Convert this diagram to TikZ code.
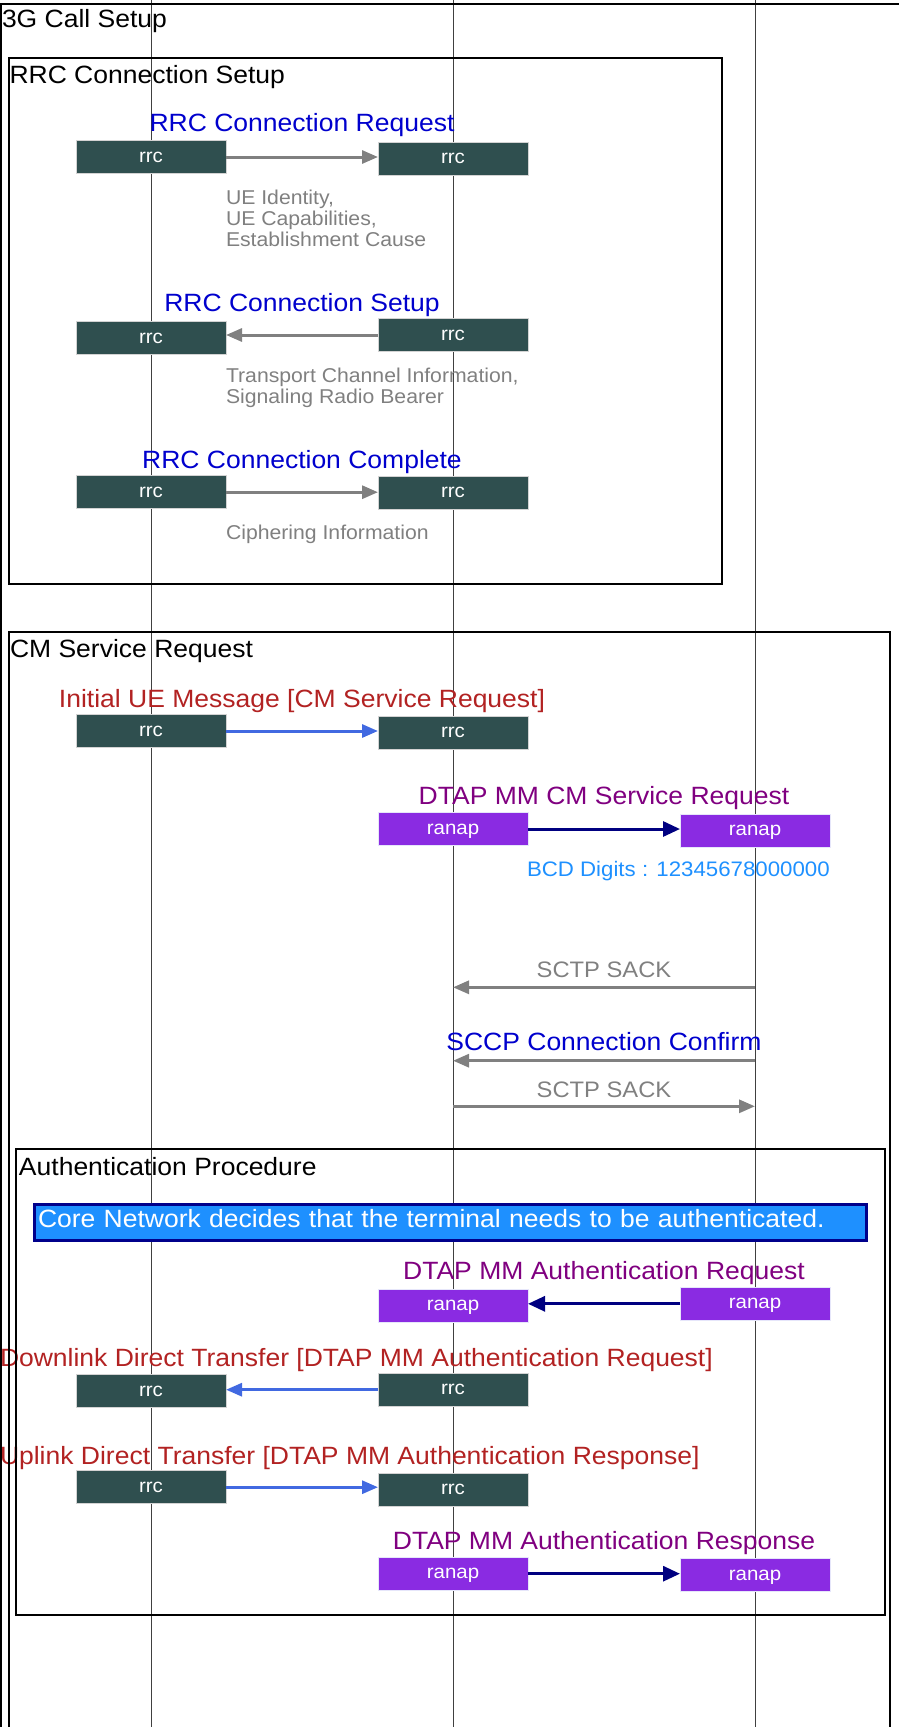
\documentclass[tikz,border=0pt]{standalone}
\usepackage{fontspec}
\setmainfont{Liberation Sans}[FakeStretch=1.06]
\usetikzlibrary{arrows.meta}

\definecolor{rrcfill}{HTML}{2F4F4F}
\definecolor{rrcline}{HTML}{D3D3D3}
\definecolor{ranapfill}{HTML}{8A2BE2}
\definecolor{ranapline}{HTML}{E6E6FA}
\definecolor{msgblue}{HTML}{0000CD}
\definecolor{msgred}{HTML}{B22222}
\definecolor{msgpurple}{HTML}{800080}
\definecolor{notegrey}{HTML}{808080}
\definecolor{infoblue}{HTML}{1E90FF}
\definecolor{infoline}{HTML}{00008B}
\definecolor{linkblue}{HTML}{4169E1}
\definecolor{linknavy}{HTML}{000080}

\tikzset{
  every node/.style={inner sep=0pt, outer sep=0pt},
  lifeline/.style={draw=black!75, line width=1pt},
  frame/.style={draw=black, line width=2pt},
  ftitle/.style={anchor=base west, font=\fontsize{25}{30}\selectfont},
  msg/.style={anchor=base, font=\fontsize{25}{30}\selectfont},
  sack/.style={anchor=base, text=notegrey, font=\fontsize{22.4}{26}\selectfont},
  % multi-line notes are placed by the baseline of their last line
  note/.style={anchor=base west, text=notegrey, align=left,
    font=\fontsize{20}{21}\selectfont},
  rrcbox/.style={draw=rrcline, line width=1pt, fill=rrcfill,
    minimum width=150pt, minimum height=33pt, text=white,
    text height=10pt, text depth=0pt, font=\fontsize{19.3}{23}\selectfont},
  ranapbox/.style={rrcbox, draw=ranapline, fill=ranapfill},
  infobox/.style={anchor=north west, draw=infoline, line width=2.5pt,
    fill=infoblue, text=white, minimum width=832pt, minimum height=36pt,
    inner xsep=3.5pt, text width=825pt, align=left,
    text height=18pt, text depth=7.5pt, font=\fontsize{25}{30}\selectfont},
  greymsg/.style={draw=notegrey, line width=3pt, -{Triangle[length=16pt,width=13pt]}},
  bluemsg/.style={draw=linkblue, line width=3pt, -{Triangle[length=16pt,width=13pt]}},
  navymsg/.style={draw=linknavy, line width=3pt, -{Triangle[length=17pt,width=15pt]}},
}

\begin{document}
\begin{tikzpicture}[x=1pt, y=-1pt]
\useasboundingbox (0,0) rectangle (898,1727);

% lifelines of the three entities
\coordinate (L1t) at (151,0);   \coordinate (L1b) at (151,1727);
\coordinate (L2t) at (453,0);   \coordinate (L2b) at (453,1727);
\coordinate (L3t) at (755,0);   \coordinate (L3b) at (755,1727);
\draw[lifeline] (L1t) -- (L1b);
\draw[lifeline] (L2t) -- (L2b);
\draw[lifeline] (L3t) -- (L3b);

% frame titles
\node[ftitle] (f0) at (2,27.3) {3G Call Setup};
\node[ftitle] (f1) at (9.5,83.3) {RRC Connection Setup};
\node[ftitle] (f2) at (10,657) {CM Service Request};
\node[ftitle] (f3) at (19,1175) {Authentication Procedure};

% message names
\node[msg, text=msgblue] (t1) at (302,131.7) {RRC Connection Request};
\node[msg, text=msgblue] (t2) at (302,311) {RRC Connection Setup};
\node[msg, text=msgblue] (t3) at (302,468) {RRC Connection Complete};
\node[msg, text=msgred] (t4) at (302,707) {Initial UE Message [CM Service Request]};
\node[msg, text=msgpurple] (t5) at (604,804) {DTAP MM CM Service Request};
\node[sack] (t6) at (604,977.3) {SCTP SACK};
\node[msg, text=msgblue] (t7) at (604,1050.7) {SCCP Connection Confirm};
\node[sack] (t8) at (604,1097) {SCTP SACK};
\node[msg, text=msgpurple] (t9) at (604,1279.3) {DTAP MM Authentication Request};
\node[msg, text=msgred, anchor=base west] (t10) at (0,1366) {Downlink Direct Transfer [DTAP MM Authentication Request]};
\node[msg, text=msgred, anchor=base west] (t11) at (0,1464.3) {Uplink Direct Transfer [DTAP MM Authentication Response]};
\node[msg, text=msgpurple] (t12) at (604,1549.3) {DTAP MM Authentication Response};

% parameter notes
\node[note] (n1) at (226,246) {UE Identity,\\UE Capabilities,\\Establishment Cause};
\node[note] (n2) at (226,403) {Transport Channel Information,\\Signaling Radio Bearer};
\node[note] (n3) at (226,539.3) {Ciphering Information};
\node[note, text=infoblue, font=\fontsize{21}{24}\selectfont] (n4) at (527,876) {BCD Digits : 12345678000000};

% protocol boxes
\node[rrcbox] (r1a) at (151,157) {rrc};
\node[rrcbox] (r1b) at (453,158.7) {rrc};
\node[rrcbox] (r2a) at (151,338) {rrc};
\node[rrcbox] (r2b) at (453,335) {rrc};
\node[rrcbox] (r3a) at (151,492.2) {rrc};
\node[rrcbox] (r3b) at (453,492.8) {rrc};
\node[rrcbox] (r4a) at (151,731) {rrc};
\node[rrcbox] (r4b) at (453,732.8) {rrc};
\node[ranapbox] (p5a) at (453,829) {ranap};
\node[ranapbox] (p5b) at (755,830.7) {ranap};
\node[ranapbox] (p6a) at (453,1305.8) {ranap};
\node[ranapbox] (p6b) at (755,1303.8) {ranap};
\node[rrcbox] (r7a) at (151,1391) {rrc};
\node[rrcbox] (r7b) at (453,1389.7) {rrc};
\node[rrcbox] (r8a) at (151,1487.2) {rrc};
\node[rrcbox] (r8b) at (453,1489.7) {rrc};
\node[ranapbox] (p9a) at (453,1573.7) {ranap};
\node[ranapbox] (p9b) at (755,1575) {ranap};

% note box
\node[infobox] (cn) at (34.5,1204.5) {Core Network decides that the terminal needs to be authenticated.};

% messages between boxes
\draw[greymsg] (r1a.east) -- (r1a.east -| r1b.west);
\draw[greymsg] (r2b.west) -- (r2b.west -| r2a.east);
\draw[greymsg] (r3a.east) -- (r3a.east -| r3b.west);
\draw[bluemsg] (r4a.east) -- (r4a.east -| r4b.west);
\draw[navymsg] (p5a.east) -- (p5a.east -| p5b.west);
\draw[navymsg] (p6b.west) -- (p6b.west -| p6a.east);
\draw[bluemsg] (r7b.west) -- (r7b.west -| r7a.east);
\draw[bluemsg] (r8a.east) -- (r8a.east -| r8b.west);
\draw[navymsg] (p9a.east) -- (p9a.east -| p9b.west);

% transport level messages between lifelines
\coordinate (k1s) at (755,987.3);  \coordinate (k1e) at (453,987.3);
\coordinate (k2s) at (755,1060.7); \coordinate (k2e) at (453,1060.7);
\coordinate (k3s) at (453,1106.3); \coordinate (k3e) at (755,1106.3);
\draw[greymsg] (k1s) -- (k1e);
\draw[greymsg] (k2s) -- (k2e);
\draw[greymsg] (k3s) -- (k3e);

% frames
\draw[frame] (1,3.7) rectangle (930,1760);
\draw[frame] (8.5,58) rectangle (722,584);
\draw[frame] (8.5,632) rectangle (890,1760);
\draw[frame] (16,1149) rectangle (884.5,1615);
\end{tikzpicture}
\end{document}
